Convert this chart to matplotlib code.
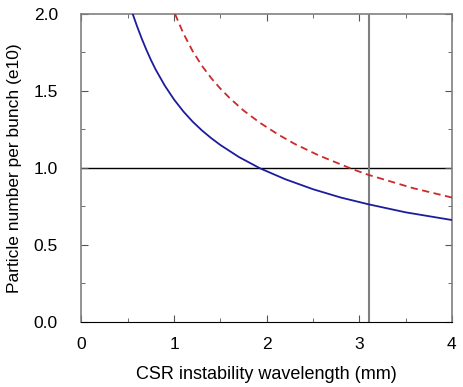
import matplotlib.pyplot as plt

plt.rcParams['font.family'] = ['Liberation Sans', 'DejaVu Sans']

# valores
x_azul = [0.553, 0.60, 0.65, 0.70, 0.75, 0.80, 0.90, 1.00, 1.10, 1.20, 1.30, 1.40, 1.50, 1.70, 1.93, 2.20, 2.50, 2.80, 3.10, 3.50, 4.00]
y_azul = [2.0, 1.920, 1.841, 1.768, 1.701, 1.640, 1.534, 1.444, 1.367, 1.301, 1.244, 1.194, 1.149, 1.071, 0.997, 0.927, 0.862, 0.808, 0.764, 0.712, 0.662]

x_verm = [1.01, 1.10, 1.20, 1.30, 1.40, 1.50, 1.60, 1.75, 1.93, 2.13, 2.30, 2.56, 2.94, 3.10, 3.58, 4.00]
y_verm = [2.0, 1.874, 1.759, 1.664, 1.584, 1.515, 1.454, 1.373, 1.292, 1.215, 1.157, 1.082, 0.989, 0.955, 0.869, 0.808]

x_linha_vert = 3.1
y_linha_horiz = 1.0

fig = plt.figure(figsize=(4.63, 3.87), dpi=100)
ax = fig.add_axes([0.176, 0.168, 0.800, 0.796])

ax.axhline(y_linha_horiz, color='black', lw=1.0, zorder=1)
ax.axvline(x_linha_vert, color='#808080', lw=1.5, zorder=1)
ax.plot(x_azul, y_azul, color='#1c1c9c', lw=1.3, zorder=3)
ax.plot(x_verm, y_verm, color='#cc2a2a', lw=1.3, ls=(0, (4, 2.5)), zorder=3)

ax.set_xlim(0, 4)
ax.set_ylim(0, 2)
ax.set_xticks([0, 1, 2, 3, 4])
ax.set_xticks([0.5, 1.5, 2.5, 3.5], minor=True)
ax.set_yticks([0.0, 0.5, 1.0, 1.5, 2.0])
ax.set_yticks([0.25, 0.75, 1.25, 1.75], minor=True)
ax.set_yticklabels(['0.0', '0.5', '1.0', '1.5', '2.0'])
ax.tick_params(which='both', direction='in', top=True, right=True, labelsize=12.5, color='#555555')
ax.tick_params(which='major', length=5)
ax.tick_params(which='minor', length=3)
ax.tick_params(axis='x', pad=11)
ax.tick_params(axis='y', pad=17)

for lado in ['left', 'right', 'top']:
    ax.spines[lado].set_color('#808080')
    ax.spines[lado].set_linewidth(1.2)
ax.spines['bottom'].set_color('black')

ax.set_xlabel('CSR instability wavelength (mm)', fontsize=13, labelpad=10)
ax.set_ylabel('Particle number per bunch (e10)', fontsize=12.5, labelpad=8)

plt.savefig('out.png', dpi=100)
